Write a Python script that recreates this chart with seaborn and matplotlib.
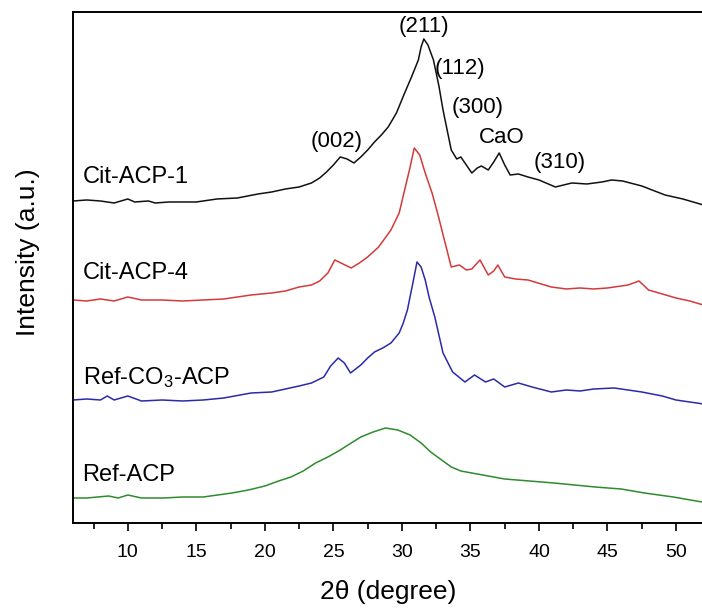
import numpy as np
import pandas as pd
import matplotlib
matplotlib.use("Agg")
import matplotlib.pyplot as plt
import seaborn as sns

# ---- data (2theta in degrees, intensity in a.u., already offset) ----
x_cit1 = [6, 7, 8, 9, 10, 10.5, 11.5, 12, 13, 15, 16.5, 18, 19.5, 20.5, 21.5, 22.5, 23.4, 24,
          24.5, 25, 25.5, 26, 26.5, 27, 27.5, 28, 28.5, 29, 29.6, 30.2, 30.7, 31.2, 31.4, 31.6,
          31.9, 32.3, 32.7, 33, 33.3, 33.6, 34.0, 34.3, 34.7, 35.1, 35.5, 35.8, 36.3, 36.7, 37.1,
          37.5, 37.9, 38.5, 39.2, 40, 41.2, 42.4, 43.5, 44.6, 45.3, 46.1, 47.5, 49.2, 50.5, 52]
y_cit1 = [322, 323, 322, 320, 324, 321, 322, 320, 321, 321, 324, 325, 329, 331, 334, 336, 340,
          345, 351, 358, 366, 364, 360, 366, 373, 381, 388, 396, 410, 430, 446, 463, 476, 484,
          478, 463, 437, 413, 393, 373, 364, 366, 358, 350, 355, 357, 353, 361, 370, 358, 348,
          349, 346, 343, 336, 340, 339, 341, 343, 342, 337, 328, 324, 318]

x_cit4 = [6, 7, 8, 9, 10, 11, 12.5, 14, 15.5, 17, 19, 20.5, 21.5, 22.5, 23.4, 24, 24.6, 25.1,
          25.7, 26.3, 26.9, 27.5, 28.3, 29.2, 29.8, 30.2, 30.6, 30.9, 31.3, 31.7, 32.2, 32.6,
          33.1, 33.6, 34.2, 34.7, 35.1, 35.7, 36.3, 36.7, 37.0, 37.5, 38.3, 39.2, 40.9, 42, 43,
          44, 45, 46.5, 47.3, 48, 49, 50, 51, 52]
y_cit4 = [223, 222, 224, 222, 226, 223, 223, 222, 223, 224, 228, 230, 232, 236, 238, 242, 250,
          263, 259, 255, 260, 266, 276, 293, 310, 333, 356, 375, 368, 350, 330, 310, 283, 256,
          258, 253, 254, 263, 248, 252, 258, 246, 244, 243, 236, 234, 235, 234, 235, 238, 242,
          233, 229, 225, 222, 218]

x_ref_co3 = [6, 7, 8, 8.5, 9, 10, 11, 12.5, 14, 15.5, 17, 19, 20.5, 21.5, 22.5, 23.4, 24.3, 24.8,
             25.35, 25.8, 26.25, 27, 27.5, 28, 28.6, 29.2, 29.8, 30.1, 30.4, 30.8, 31.1, 31.4,
             31.7, 32.0, 32.4, 33, 33.7, 34.6, 35.3, 36.1, 36.7, 37.5, 38.5, 39.5, 40.9, 42, 43,
             44, 45.5, 46.5, 47.5, 49, 50, 52]
y_ref_co3 = [123, 124, 123, 127, 123, 127, 122, 123, 122, 123, 125, 130, 131, 134, 137, 140, 146,
             157, 165, 160, 150, 158, 165, 171, 175, 180, 190, 200, 213, 240, 261, 256, 243, 225,
             206, 170, 151, 141, 148, 141, 144, 136, 140, 136, 131, 133, 132, 134, 135, 133, 131,
             127, 123, 119]

x_ref = [6, 7, 8.6, 9.3, 10, 11, 12.6, 14, 15.5, 17.6, 18.8, 20.0, 21, 21.9, 22.8, 23.7, 24.6,
         25.5, 26.3, 27.0, 27.9, 28.8, 29.7, 30.6, 31.4, 32.1, 32.9, 33.6, 34.3, 35.1, 36.3,
         37.5, 39.3, 41.1, 42.6, 44.1, 46, 47.7, 49.8, 51.9, 52]
y_ref = [25, 25, 27, 25, 28, 25, 25, 26, 26, 30, 33, 37, 42, 46, 52, 60, 66, 73, 80, 86, 91, 95,
         93, 88, 80, 71, 63, 56, 52, 50, 47, 44, 42, 40, 38, 36, 34, 30, 26, 21, 21]

series_names = ["Cit-ACP-1", "Cit-ACP-4", "Ref-CO$\\mathregular{_3}$-ACP", "Ref-ACP"]
series_x = [x_cit1, x_cit4, x_ref_co3, x_ref]
series_y = [y_cit1, y_cit4, y_ref_co3, y_ref]
colors = ["#111111", "#d43a3a", "#2a2aaa", "#2e8b2e"]

peak_labels = ["(211)", "(112)", "(300)", "CaO", "(002)", "(310)"]
peak_x = [31.6, 34.2, 35.5, 37.3, 25.2, 41.5]
peak_y = [496, 454, 415, 385, 381, 360]

label_y = [346, 250, 145, 48]

frames = []
for name, xs, ys in zip(series_names, series_x, series_y):
    frames.append(pd.DataFrame({"two_theta": xs, "intensity": ys, "sample": name}))
df = pd.concat(frames, ignore_index=True)

sns.set_style("ticks")
plt.rcParams["font.family"] = ["Liberation Sans", "DejaVu Sans"]
plt.rcParams["text.color"] = "black"
plt.rcParams["axes.labelcolor"] = "black"
plt.rcParams["xtick.color"] = "black"
plt.rcParams["ytick.color"] = "black"

fig = plt.figure(figsize=(7.02, 6.08), dpi=100)
ax = fig.add_axes([0.104, 0.1398, 0.898, 0.8405])

sns.lineplot(data=df, x="two_theta", y="intensity", hue="sample", palette=colors,
             hue_order=series_names, sort=False, estimator=None, lw=1.1, legend=False, ax=ax)

for name, yl in zip(series_names, label_y):
    ax.text(6.7, yl, name, fontsize=17, ha="left", va="center", color="black")

for lab, px, py in zip(peak_labels, peak_x, peak_y):
    ax.text(px, py, lab, fontsize=16, ha="center", va="center", color="black")

ax.set_xlim(6, 52)
ax.set_ylim(0, 511)
ax.set_yticks([])
ax.set_xticks([10, 15, 20, 25, 30, 35, 40, 45, 50])
ax.set_xticks(np.arange(7.5, 52, 5), minor=True)
ax.tick_params(axis="x", which="major", direction="out", length=6, width=1.2, labelsize=14,
               pad=9, colors="black")
ax.tick_params(axis="x", which="minor", direction="out", length=4, width=1.2, colors="black")
for s in ax.spines.values():
    s.set_linewidth(1.4)
    s.set_color("black")
ax.set_xlabel("2\u03b8 (degree)", fontsize=19, labelpad=14, color="black")
ax.set_ylabel("Intensity (a.u.)", fontsize=19, color="black")
ax.yaxis.set_label_coords(-0.052, 0.53)

fig.savefig("out.png", dpi=100)
